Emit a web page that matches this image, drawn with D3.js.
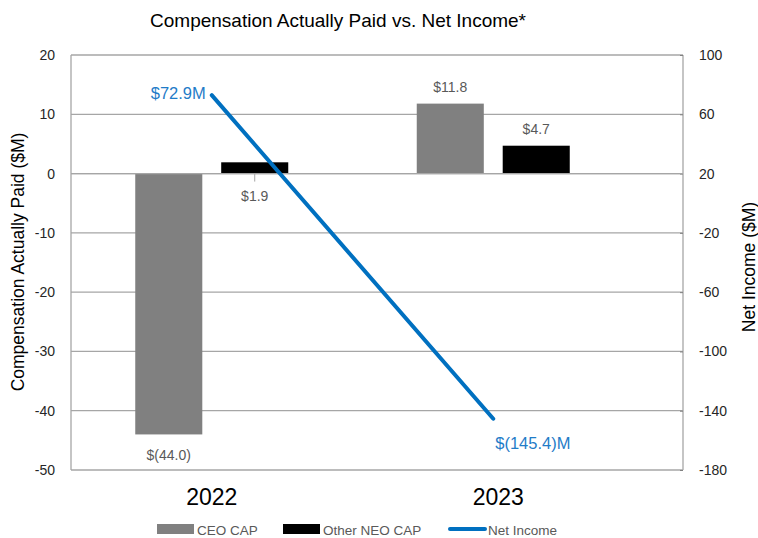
<!DOCTYPE html>
<html>
<head>
<meta charset="utf-8">
<script src="https://cdn.jsdelivr.net/npm/d3@7"></script>
<style>
  html, body { margin: 0; padding: 0; background: #fff; }
  svg { display: block; font-family: "Liberation Sans", Arial, sans-serif; }
</style>
</head>
<body>
<svg id="chart" width="758" height="538"></svg>
<script>
// ---- data ----
const years = ["2022", "2023"];
const seriesNames = ["CEO CAP", "Other NEO CAP"];
const ceoCap = [-44.0, 11.8];
const otherNeoCap = [1.9, 4.7];
const netIncome = [72.9, -145.4];
const capLabels = [["$(44.0)", "$11.8"], ["$1.9", "$4.7"]];
const netIncomeLabels = ["$72.9M", "$(145.4)M"];
const leftTicks = [-50, -40, -30, -20, -10, 0, 10, 20];
const rightTicks = [-180, -140, -100, -60, -20, 20, 60, 100];
const colors = { "CEO CAP": "#808080", "Other NEO CAP": "#000000", "Net Income": "#0070C0" };

// ---- layout ----
const svg = d3.select("#chart");
const plot = { left: 71, right: 683, top: 55, bottom: 470 };

const x = d3.scaleBand().domain(years).range([plot.left, 634]);
const xi = d3.scaleBand().domain(seriesNames).range([-76.5, 76.5]).paddingInner(0.22);
const yL = d3.scaleLinear().domain([-50, 20]).range([plot.bottom, plot.top]);
const yR = d3.scaleLinear().domain([-180, 100]).range([plot.bottom, plot.top]);
const cx = yr => x(yr) + x.bandwidth() / 2;
const fmt = d => String(d);

// title
svg.append("text").attr("x", 338).attr("y", 27).attr("text-anchor", "middle")
  .attr("font-size", 19).attr("fill", "#000")
  .text("Compensation Actually Paid vs. Net Income*");

// gridlines
svg.append("g").selectAll("line").data(leftTicks).join("line")
  .attr("x1", plot.left).attr("x2", plot.right)
  .attr("y1", d => yL(d)).attr("y2", d => yL(d))
  .attr("stroke", "#a6a6a6").attr("stroke-width", 1.3);

// axes lines
svg.append("line").attr("x1", plot.left).attr("x2", plot.left)
  .attr("y1", plot.top).attr("y2", plot.bottom).attr("stroke", "#a6a6a6").attr("stroke-width", 1.3);
svg.append("line").attr("x1", plot.right).attr("x2", plot.right)
  .attr("y1", plot.top).attr("y2", plot.bottom).attr("stroke", "#a6a6a6").attr("stroke-width", 1.3);

// left axis labels
const gL = svg.append("g").attr("transform", `translate(${plot.left},0)`)
  .call(d3.axisLeft(yL).tickValues(leftTicks).tickSize(0).tickPadding(16).tickFormat(fmt));
gL.select(".domain").remove();
gL.selectAll("text").attr("font-size", 14).attr("fill", "#262626").attr("font-family", "Liberation Sans, Arial, sans-serif");

// right axis labels
const gR = svg.append("g").attr("transform", `translate(${plot.right},0)`)
  .call(d3.axisRight(yR).tickValues(rightTicks).tickSize(-3).tickPadding(16).tickFormat(fmt));
gR.select(".domain").remove();
gR.selectAll("line").attr("stroke", "#808080");
gR.selectAll("text").attr("font-size", 14).attr("fill", "#262626").attr("font-family", "Liberation Sans, Arial, sans-serif");

// axis titles
svg.append("text").attr("transform", "translate(24,262) rotate(-90)")
  .attr("text-anchor", "middle").attr("font-size", 17.5).attr("fill", "#000")
  .text("Compensation Actually Paid ($M)");
svg.append("text").attr("transform", "translate(755,267) rotate(-90)")
  .attr("text-anchor", "middle").attr("font-size", 17.5).attr("fill", "#000")
  .text("Net Income ($M)");

// bars
const barData = [];
years.forEach((yr, i) => {
  barData.push({ yr, s: "CEO CAP", v: ceoCap[i], label: capLabels[0][i] });
  barData.push({ yr, s: "Other NEO CAP", v: otherNeoCap[i], label: capLabels[1][i] });
});
svg.append("g").selectAll("rect").data(barData).join("rect")
  .attr("x", d => cx(d.yr) + xi(d.s))
  .attr("width", xi.bandwidth())
  .attr("y", d => Math.min(yL(d.v), yL(0)))
  .attr("height", d => Math.abs(yL(d.v) - yL(0)))
  .attr("fill", d => colors[d.s]);

// zero line above bars
svg.append("line").attr("x1", plot.left).attr("x2", plot.right)
  .attr("y1", yL(0)).attr("y2", yL(0)).attr("stroke", "#a6a6a6").attr("stroke-width", 1.3);

// bar labels
const labelPos = d => {
  const bx = cx(d.yr) + xi(d.s) + xi.bandwidth() / 2;
  if (d.v < 0) return [bx, yL(d.v) + 26];
  if (d.yr === "2022" && d.s === "Other NEO CAP") return [bx, yL(0) + 27];
  return [bx, yL(d.v) - 12];
};
svg.append("g").selectAll("text").data(barData).join("text")
  .attr("x", d => labelPos(d)[0]).attr("y", d => labelPos(d)[1])
  .attr("text-anchor", "middle").attr("font-size", 14).attr("fill", "#595959")
  .text(d => d.label);
// leader line for small bar label
const small = barData.find(d => d.yr === "2022" && d.s === "Other NEO CAP");
svg.append("line")
  .attr("x1", cx(small.yr) + xi(small.s) + xi.bandwidth() / 2)
  .attr("x2", cx(small.yr) + xi(small.s) + xi.bandwidth() / 2)
  .attr("y1", yL(0)).attr("y2", yL(0) + 8)
  .attr("stroke", "#a6a6a6").attr("stroke-width", 1);

// net income line
const lineGen = d3.line().x((d, i) => cx(years[i])).y(d => yR(d));
svg.append("path").datum(netIncome).attr("d", lineGen)
  .attr("fill", "none").attr("stroke", colors["Net Income"]).attr("stroke-width", 4)
  .attr("stroke-linecap", "round");

// net income labels
svg.append("text").attr("x", cx(years[0]) - 6).attr("y", yR(netIncome[0]) + 4)
  .attr("text-anchor", "end").attr("font-size", 16.5).attr("fill", "#1F7CC8")
  .text(netIncomeLabels[0]);
svg.append("text").attr("x", cx(years[1]) + 2).attr("y", yR(netIncome[1]) + 30)
  .attr("text-anchor", "start").attr("font-size", 16.5).attr("fill", "#1F7CC8")
  .text(netIncomeLabels[1]);

// category labels
svg.append("g").selectAll("text").data(years).join("text")
  .attr("x", d => cx(d) + (d === "2023" ? 5 : 0)).attr("y", 505)
  .attr("text-anchor", "middle").attr("font-size", 23).attr("fill", "#000")
  .text(d => d);

// legend
const legendItems = [
  { name: "CEO CAP", type: "rect", x: 157 },
  { name: "Other NEO CAP", type: "rect", x: 283 },
  { name: "Net Income", type: "line", x: 448 }
];
const lg = svg.append("g");
legendItems.forEach(it => {
  if (it.type === "rect") {
    lg.append("rect").attr("x", it.x).attr("y", 524).attr("width", 37).attr("height", 10)
      .attr("fill", colors[it.name]);
  } else {
    lg.append("line").attr("x1", it.x + 2).attr("x2", it.x + 37).attr("y1", 529).attr("y2", 529)
      .attr("stroke", colors[it.name]).attr("stroke-width", 4).attr("stroke-linecap", "round");
  }
  lg.append("text").attr("x", it.x + 40).attr("y", 535).attr("font-size", 13.5)
    .attr("fill", "#595959").text(it.name);
});
</script>
</body>
</html>
